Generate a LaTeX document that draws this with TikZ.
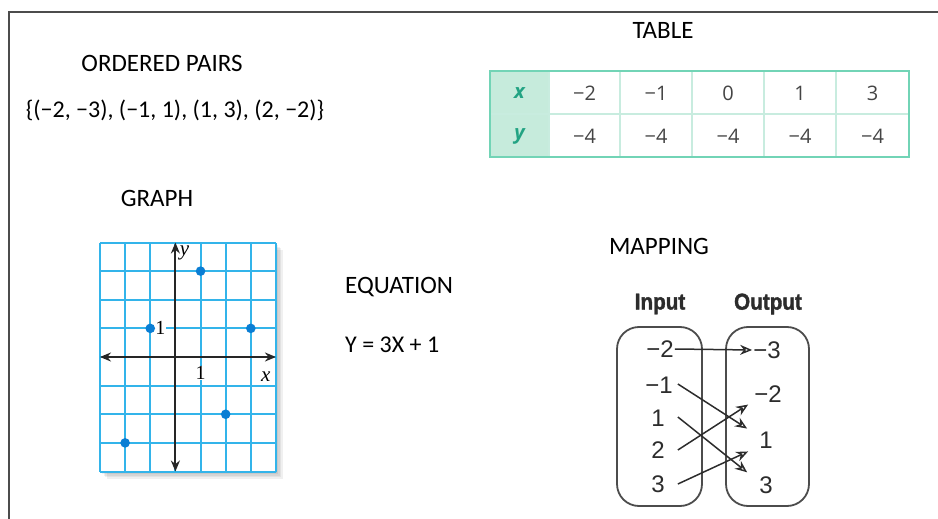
\documentclass[tikz,border=0pt]{standalone}
\usepackage{fontspec}
\setmainfont{Carlito}
\newfontfamily\tabfont{Open Sans}
\newfontfamily\mapfont{Liberation Sans}
\newfontfamily\mapbold[FakeStretch=0.9,FakeBold=1.5]{Liberation Sans Bold}
\newfontfamily\grafont{Liberation Serif}
\usetikzlibrary{arrows.meta,positioning,calc}

\definecolor{gridblue}{HTML}{33B4EA}
\definecolor{dotblue}{HTML}{0A7ED4}
\definecolor{tealborder}{HTML}{72D4B6}
\definecolor{tealfill}{HTML}{C6EBDC}
\definecolor{tealline}{HTML}{C8ECDF}
\definecolor{tealtext}{HTML}{22A383}
\definecolor{cellgray}{HTML}{444444}
\definecolor{mapgray}{HTML}{2C2C2C}

\tikzset{
  heading/.style={inner sep=1pt, font=\fontsize{25}{28}\selectfont},
  plaintext/.style={inner sep=1pt, font=\fontsize{24}{27}\selectfont},
  tabcell/.style={inner sep=1pt, text=cellgray, font=\tabfont\fontsize{20}{23}\selectfont},
  tabhead/.style={inner sep=1pt, text=tealtext, font=\tabfont\bfseries\itshape\fontsize{20}{23}\selectfont},
  gridline/.style={gridblue, line width=2pt},
  axisline/.style={black!85, line width=2pt, {Stealth[length=11pt,width=9pt]}-{Stealth[length=11pt,width=9pt]}},
  graphlabel/.style={inner sep=1pt, font=\grafont\fontsize{20}{22}\selectfont},
  mapnum/.style={inner sep=1pt, text=mapgray, font=\mapfont\fontsize{24}{27}\selectfont},
  maphead/.style={inner sep=1pt, text=mapgray, font=\mapbold\fontsize{23}{27}\selectfont},
  mapbox/.style={mapgray!85, line width=1.8pt, rounded corners=22pt},
  maparrow/.style={mapgray, line width=1.5pt, -{Stealth[length=12pt,width=10pt,open]}},
}

\begin{document}
\begin{tikzpicture}[x=1pt,y=-1pt]
	\useasboundingbox (0,0) rectangle (938,519);
	% frame
	\draw[black!70, line width=2pt] (9,519) -- (9,12) -- (938,12);
	
	% ordered pairs
	\node[heading] (pairstitle) at (162,63) {ORDERED PAIRS};
	\node[plaintext] (pairs) at (175,110) {\{(−2, −3), (−1, 1), (1, 3), (2, −2)\}};
	
	% table
	\node[heading] (tabletitle) at (663,30) {TABLE};
	\fill[tealfill] (490,71) rectangle (549,157);
	\foreach \cx in {549,620,692,764,836}
		\draw[tealline, line width=1.2pt] (\cx,71) -- (\cx,157);
	\draw[tealline, line width=1.2pt] (490,114) -- (909,114);
	\draw[tealborder, line width=2.4pt] (490,71) rectangle (909,157);
	\node[tabhead] (hx) at (519.5,93) {x};
	\node[tabhead] (hy) at (519.5,136) {y};
	\foreach \xv/\cx [count=\i] in {−2/584.5, −1/656, 0/728, 1/800, 3/872.5}{
		\node[tabcell] (x\i) at (\cx,93) {\xv};
		\node[tabcell] (y\i) at (\cx,136) {−4};
	}
	
	% graph
	\node[heading] (graphtitle) at (157,198) {GRAPH};
	\foreach \s in {1,...,5}
		\fill[black, opacity=0.06] (99+\s*1.6,242+\s*1.6) rectangle (275+\s*1.6,471+\s*1.6);
	\fill[white] (99,242) rectangle (275,471);
	\begin{scope}[shift={(175.4pt,-357pt)}, x=25.14pt, y=28.625pt]
		\foreach \gx in {-3,...,4}
			\draw[gridline] (\gx,-4) -- (\gx,4);
		\foreach \gy in {-4,...,4}
			\draw[gridline] (-3,\gy) -- (4,\gy);
		\draw[axisline] (-3,0) -- (4,0);
		\draw[axisline] (0,-4) -- (0,4);
		\node[graphlabel, font=\grafont\itshape\fontsize{21}{22}\selectfont] (ylab) at (0.36,3.64) {y};
		\node[graphlabel, font=\grafont\itshape\fontsize{21}{22}\selectfont] (xlab) at (3.6,-0.7) {x};
		\node[graphlabel, fill=white] (yone) at (-0.6,1) {1};
		\node[graphlabel, fill=white, inner sep=0.5pt] (xone) at (1,-0.55) {1};
		\foreach \px/\py in {-2/-3, -1/1, 1/3, 2/-2, 3/1}
			\fill[dotblue] (\px,\py) circle (4.8pt);
	\end{scope}
	
	% equation
	\node[heading, anchor=west] (eqtitle) at (344,287) {EQUATION};
	\node[plaintext, anchor=west] (eq) at (344,345) {Y = 3X + 1};
	
	% mapping
	\node[heading] (maptitle) at (659,246) {MAPPING};
	\node[maphead] (inhead) at (660,304) {Input};
	\node[maphead] (outhead) at (768,304) {Output};
	\draw[mapbox] (617,327) rectangle (702,506);
	\draw[mapbox] (726,327) rectangle (809,506);
	\node[mapnum] (in1) at (660,349) {−2};
	\node[mapnum] (in2) at (659,385) {−1};
	\node[mapnum] (in3) at (658,418) {1};
	\node[mapnum] (in4) at (658,450) {2};
	\node[mapnum] (in5) at (658,484) {3};
	\node[mapnum] (out1) at (767,350) {−3};
	\node[mapnum] (out2) at (768,394) {−2};
	\node[mapnum] (out3) at (766,440) {1};
	\node[mapnum] (out4) at (766,485) {3};
	\draw[maparrow] (in1.east) -- (out1.west);
	\draw[maparrow] ([xshift=4pt,yshift=1pt]in2.east) -- ([xshift=-11pt,yshift=2pt]out3.north west);
	\draw[maparrow] ([xshift=12pt,yshift=1pt]in3.east) -- ([xshift=-11pt,yshift=3pt]out4.north west);
	\draw[maparrow] ([xshift=12pt]in4.east) -- ([xshift=-5pt,yshift=-1pt]out2.south west);
	\draw[maparrow] ([xshift=12pt]in5.east) -- ([xshift=-10pt,yshift=-2pt]out3.south west);
\end{tikzpicture}
\end{document}
